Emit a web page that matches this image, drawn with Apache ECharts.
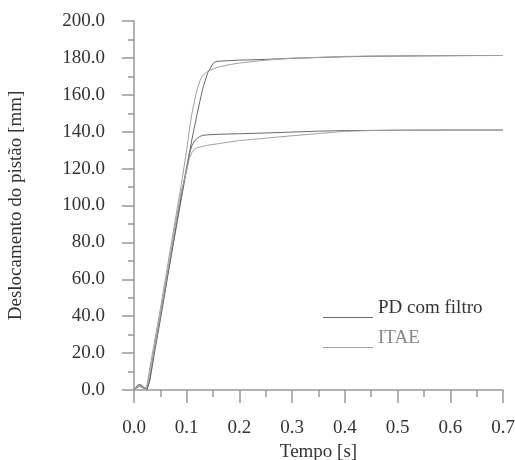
<!DOCTYPE html>
<html>
<head>
<meta charset="utf-8">
<script src="https://cdn.jsdelivr.net/npm/echarts@6/dist/echarts.min.js"></script>
<style>html,body{margin:0;padding:0;background:#fff}#c{width:515px;height:460px}</style>
</head>
<body>
<div id="c"></div>
<script>
// Tick settings
var xMin = 0, xMax = 0.7, xStep = 0.1;
var yMin = 0, yMax = 200, yStep = 20;

// PD com filtro, 180 mm
var pd180T = [0,0.005,0.01,0.015,0.02,0.025,0.03,0.04,0.05,0.06,0.07,0.08,0.09,0.10,0.11,0.12,0.13,0.14,0.15,0.155,0.16,0.18,0.2,0.25,0.3,0.35,0.4,0.45,0.5,0.55,0.6,0.65,0.7];
var pd180V = [0,1.5,3,2.5,1,0.5,6,24,40,56,72,88,104,120,136,150,163,172,177,178,178.2,178.5,178.8,179.2,179.8,180.2,180.6,180.9,181.0,181.1,181.2,181.3,181.3];

// PD com filtro, 140 mm
var pd140T = [0,0.005,0.01,0.015,0.02,0.025,0.03,0.04,0.05,0.06,0.07,0.08,0.09,0.1,0.105,0.11,0.115,0.12,0.125,0.13,0.14,0.16,0.2,0.25,0.3,0.35,0.4,0.5,0.6,0.7];
var pd140V = [0,2,3,2,1,0.5,5,22,38,55,72,89,106,121,128,132.6,135,136.5,137.4,138,138.3,138.6,138.9,139.3,139.8,140.3,140.6,140.8,140.9,140.9];

// ITAE, 180 mm
var itae180T = [0,0.005,0.01,0.015,0.02,0.025,0.03,0.04,0.05,0.06,0.07,0.08,0.09,0.10,0.105,0.11,0.115,0.12,0.125,0.13,0.14,0.15,0.16,0.18,0.2,0.23,0.26,0.3,0.35,0.4,0.45,0.5,0.6,0.7];
var itae180V = [0,1,2,1.5,0.5,3,12,28,44,61,78,95,112,130,141,150,157,163,167.5,170.3,172.8,174,175,176.3,177.2,178.2,179,179.8,180.3,180.8,181,181.1,181.2,181.3];

// ITAE, 140 mm
var itae140T = [0,0.005,0.01,0.015,0.02,0.025,0.03,0.04,0.05,0.06,0.07,0.08,0.09,0.1,0.105,0.11,0.115,0.12,0.13,0.14,0.16,0.2,0.25,0.3,0.35,0.4,0.45,0.5,0.6,0.7];
var itae140V = [0,1,2,1.5,0.5,2,9,25,41,58,75,92,108,119,125.5,128.8,130.5,131.2,132,132.7,133.5,135.2,136.5,137.8,139,140.2,140.6,140.8,140.9,140.9];

function pairs(t, v) { return t.map(function (x, i) { return [x, v[i]]; }); }

var FONT = "'Liberation Serif','Times New Roman',serif";
var PD_COLOR = '#6a6a6a', ITAE_COLOR = '#a0a0a0';

var chart = echarts.init(document.getElementById('c'), null, {renderer: 'canvas'});
function lineSeries(name, color, t, v) {
  return {
    name: name, type: 'line', showSymbol: false, symbol: 'none', smooth: false,
    lineStyle: {color: color, width: 1}, itemStyle: {color: color},
    data: pairs(t, v), animation: false
  };
}
var axisCommon = {
  axisLine: {show: true, lineStyle: {color: '#999', width: 1.5}},
  splitLine: {show: false},
  minorSplitLine: {show: false},
  axisLabel: {color: '#333', fontFamily: FONT, fontSize: 19, margin: 27},
  nameTextStyle: {color: '#333', fontFamily: FONT, fontSize: 19}
};
chart.setOption({
  animation: false,
  backgroundColor: '#fff',
  grid: {left: 134, right: 12, top: 21, bottom: 70, containLabel: false, outerBoundsMode: 'none'},
  legend: {
    orient: 'vertical', left: 318, top: 293, itemGap: 10, itemWidth: 50, itemHeight: 20,
    icon: 'path://M0,0 L0,0 M0,19 L50,19 L50,20 L0,20 Z',
    textStyle: {fontFamily: FONT, fontSize: 19, color: '#333'},
    data: [
      {name: 'PD com filtro', textStyle: {color: '#333'}},
      {name: 'ITAE', textStyle: {color: '#888'}}
    ]
  },
  xAxis: Object.assign({}, axisCommon, {
    type: 'value', min: xMin, max: xMax, interval: xStep,
    name: 'Tempo [s]', nameLocation: 'middle', nameGap: 53,
    axisTick: {show: true, inside: false, length: 13, lineStyle: {color: '#999', width: 1.5}},
    minorTick: {show: true, splitNumber: 2, length: 7, lineStyle: {color: '#999', width: 1.5}},
    axisLabel: Object.assign({}, axisCommon.axisLabel, {margin: 29, formatter: function (v) { return v.toFixed(1); }})
  }),
  yAxis: Object.assign({}, axisCommon, {
    type: 'value', min: yMin, max: yMax, interval: yStep,
    name: 'Deslocamento do pistão [mm]', nameLocation: 'middle', nameGap: 108,
    axisTick: {show: true, inside: false, length: 12, lineStyle: {color: '#999', width: 1.5}},
    minorTick: {show: true, splitNumber: 2, length: 6, lineStyle: {color: '#999', width: 1.5}},
    axisLabel: Object.assign({}, axisCommon.axisLabel, {margin: 29, formatter: function (v) { return v.toFixed(1); }})
  }),
  series: [
    lineSeries('PD com filtro', PD_COLOR, pd180T, pd180V),
    lineSeries('PD com filtro', PD_COLOR, pd140T, pd140V),
    lineSeries('ITAE', ITAE_COLOR, itae180T, itae180V),
    lineSeries('ITAE', ITAE_COLOR, itae140T, itae140V)
  ]
});
</script>
</body>
</html>
